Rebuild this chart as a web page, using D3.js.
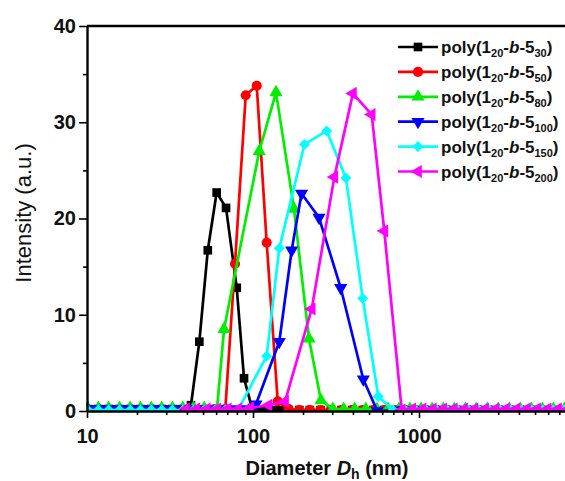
<!DOCTYPE html>
<html>
<head>
<meta charset="utf-8">
<script src="https://cdn.jsdelivr.net/npm/d3@7"></script>
<style>
  body { margin: 0; background: #fff; }
  text { font-family: "Liberation Sans", Arial, sans-serif; }
</style>
</head>
<body>
<div id="chart"></div>
<script>
// block length of the second segment, one per sample
const blocks = ["30", "50", "80", "100", "150", "200"];
const colors = ["#000000", "#ff0000", "#00ee00", "#0000ff", "#00ffff", "#ff00ff"];
const symbols = ["square", "circle", "up", "down", "diamond", "left"];

// diameter (nm) and intensity, one pair of arrays per sample
const dia30 = [10.1, 11.7, 13.5, 15.7, 18.2, 21.0, 24.4, 28.2, 32.7, 37.8, 42.3, 47.5, 53.4, 60.4, 68.8, 79.8, 88.3, 98.6, 114, 129, 145, 164, 190, 220, 255, 295, 342, 396, 459, 531, 615, 712, 825, 955, 1106, 1281, 1484, 1718, 1990, 2305, 2669, 3091, 3580, 4145, 4801, 5560, 6439, 7456];
const int30 = [0.2, 0.2, 0.2, 0.2, 0.2, 0.2, 0.2, 0.2, 0.2, 0.2, 0.6, 7.2, 16.7, 22.7, 21.1, 12.8, 3.4, 0.3, 0.1, 0.1, 0.1, 0.1, 0.1, 0.1, 0.1, 0.1, 0.1, 0.1, 0.1, 0.1, 0.1, 0.1, 0.1, 0.1, 0.1, 0.1, 0.1, 0.1, 0.1, 0.1, 0.1, 0.1, 0.1, 0.1, 0.1, 0.1, 0.1, 0.1];

const dia50 = [10.1, 11.7, 13.5, 15.7, 18.2, 21.0, 24.4, 28.2, 32.7, 37.8, 43.8, 50.8, 58.8, 68.1, 77.9, 90.4, 105.3, 120.9, 140.9, 164, 190, 220, 255, 295, 342, 396, 459, 531, 615, 712, 825, 955, 1106, 1281, 1484, 1718, 1990, 2305, 2669, 3091, 3580, 4145, 4801, 5560, 6439, 7456];
const int50 = [0.2, 0.2, 0.2, 0.2, 0.2, 0.2, 0.2, 0.2, 0.2, 0.2, 0.2, 0.2, 0.2, 0.2, 15.3, 32.8, 33.8, 17.5, 1.0, 0.2, 0.1, 0.1, 0.1, 0.1, 0.1, 0.1, 0.1, 0.1, 0.1, 0.1, 0.1, 0.1, 0.1, 0.1, 0.1, 0.1, 0.1, 0.1, 0.1, 0.1, 0.1, 0.1, 0.1, 0.1, 0.1, 0.1];

const dia80 = [10.1, 11.7, 13.5, 15.7, 18.2, 21.0, 24.4, 28.2, 32.7, 37.8, 43.8, 50.8, 60.7, 66.9, 109.1, 137.6, 176.6, 217.4, 256.8, 303, 352, 410, 478, 557, 650, 757, 882, 1030, 1200, 1400, 1630, 1900, 2210, 2580, 3000, 3500, 4080, 4750, 5540, 6450, 7520];
const int80 = [0.3, 0.3, 0.3, 0.3, 0.3, 0.3, 0.3, 0.3, 0.3, 0.3, 0.3, 0.3, 0.2, 8.5, 27.0, 33.1, 21.0, 7.5, 1.1, 0.2, 0.2, 0.2, 0.2, 0.2, 0.2, 0.2, 0.2, 0.2, 0.2, 0.2, 0.2, 0.2, 0.2, 0.2, 0.2, 0.2, 0.2, 0.2, 0.2, 0.2, 0.2];

const dia100 = [10.1, 11.7, 13.5, 15.7, 18.2, 21.0, 24.4, 28.2, 32.7, 37.8, 43.8, 50.8, 58.8, 68.1, 78.8, 91.3, 104.2, 144, 171, 196, 249.8, 337.6, 461.8, 560.8, 712, 825, 955, 1106, 1281, 1484, 1718, 1990, 2305, 2669, 3091, 3580, 4145, 4801, 5560, 6439, 7456];
const int100 = [0.2, 0.2, 0.2, 0.2, 0.2, 0.2, 0.2, 0.2, 0.2, 0.2, 0.2, 0.2, 0.2, 0.2, 0.2, 0.2, 0.7, 7.2, 16.7, 22.6, 20.1, 12.8, 3.3, 0.0, 0.1, 0.1, 0.1, 0.1, 0.1, 0.1, 0.1, 0.1, 0.1, 0.1, 0.1, 0.1, 0.1, 0.1, 0.1, 0.1, 0.1];

const dia150 = [10.1, 11.7, 13.5, 15.7, 18.2, 21.0, 24.4, 28.2, 32.7, 37.8, 43.8, 50.8, 58.8, 68.1, 81.2, 120.9, 144, 204.2, 278, 363, 458, 568.8, 697, 825, 955, 1106, 1281, 1484, 1718, 1990, 2305, 2669, 3091, 3580, 4145, 4801, 5560, 6439, 7456];
const int150 = [0.1, 0.1, 0.1, 0.1, 0.1, 0.1, 0.1, 0.1, 0.1, 0.1, 0.1, 0.1, 0.1, 0.1, 0.1, 5.7, 16.9, 27.7, 29.1, 24.2, 11.7, 1.5, 0.1, 0.1, 0.1, 0.1, 0.1, 0.1, 0.1, 0.1, 0.1, 0.1, 0.1, 0.1, 0.1, 0.1, 0.1, 0.1, 0.1];

const dia200 = [39.5, 45.6, 52.7, 60.9, 70.4, 81.3, 96, 124, 156, 225.8, 309, 400, 519, 618, 787, 910, 1050, 1210, 1400, 1620, 1870, 2160, 2500, 2890, 3340, 3860, 4460, 5150, 5950, 6880, 7950];
const int200 = [0.2, 0.2, 0.2, 0.2, 0.2, 0.2, 0.3, 0.6, 1.0, 10.6, 24.3, 33.0, 30.8, 18.7, 0.1, 0.2, 0.2, 0.2, 0.2, 0.2, 0.2, 0.2, 0.2, 0.2, 0.2, 0.2, 0.2, 0.2, 0.2, 0.2, 0.2];

const diameters = [dia30, dia50, dia80, dia100, dia150, dia200];
const intensities = [int30, int50, int80, int100, int150, int200];

const yTicks = [0, 10, 20, 30, 40];
const xTicks = [10, 100, 1000];

const W = 565, H = 481;
const plotLeft = 87, plotTop = 26, plotBottom = 411;

const svg = d3.select("#chart").append("svg")
    .attr("width", W)
    .attr("height", H);

const x = d3.scaleLog().domain([10, 10000]).range([plotLeft, plotLeft + 3 * 166]);
const y = d3.scaleLinear().domain([0, 40]).range([plotBottom, plotTop]);

svg.append("clipPath").attr("id", "plotclip")
  .append("rect")
    .attr("x", plotLeft - 1).attr("y", plotTop)
    .attr("width", W - plotLeft + 20).attr("height", plotBottom - plotTop);

// marker shapes
function markerPath(kind, size) {
    if (kind === "square") return d3.symbol(d3.symbolSquare, size * 0.75)();
    if (kind === "circle") return d3.symbol(d3.symbolCircle, size * 0.8)();
    if (kind === "diamond") return d3.symbol(d3.symbolSquare, size * 0.6)();
    return d3.symbol(d3.symbolTriangle, size * 0.75)();
}
function markerRotate(kind) {
    if (kind === "down") return 180;
    if (kind === "left") return -90;
    if (kind === "diamond") return 45;
    return 0;
}

const plot = svg.append("g").attr("clip-path", "url(#plotclip)");
const line = d3.line().x(d => x(d[0])).y(d => y(d[1]));

blocks.forEach((b, i) => {
    const pts = diameters[i].map((d, j) => [d, intensities[i][j]]);
    const g = plot.append("g");
    g.append("path")
        .datum(pts)
        .attr("fill", "none")
        .attr("stroke", colors[i])
        .attr("stroke-width", 2.7)
        .attr("stroke-linejoin", "round")
        .attr("d", line);
    g.selectAll("path.pt")
        .data(pts)
        .enter()
        .append("path")
        .attr("class", "pt")
        .attr("d", markerPath(symbols[i], 100))
        .attr("fill", colors[i])
        .attr("transform", d => "translate(" + x(d[0]) + "," + y(d[1]) + ") rotate(" + markerRotate(symbols[i]) + ")");
});

// axes
svg.append("g")
    .attr("transform", "translate(" + plotLeft + ",0)")
    .call(d3.axisLeft(y).tickValues(yTicks).tickSize(8).tickSizeOuter(0).tickPadding(3));
const yMinor = svg.append("g")
    .attr("transform", "translate(" + plotLeft + ",0)")
    .call(d3.axisLeft(y).tickValues([5, 15, 25, 35]).tickSize(4).tickFormat(""));
yMinor.select(".domain").remove();

const minor = x.ticks().filter(t => xTicks.indexOf(t) < 0 && t < 10000);
svg.append("g")
    .attr("transform", "translate(0," + plotBottom + ")")
    .call(d3.axisBottom(x).tickValues(xTicks).tickFormat(d3.format("d")).tickSize(7).tickSizeOuter(0).tickPadding(11));
const xMinor = svg.append("g")
    .attr("transform", "translate(0," + plotBottom + ")")
    .call(d3.axisBottom(x).tickValues(minor).tickSize(4).tickFormat(""));
xMinor.select(".domain").remove();

svg.selectAll(".domain").attr("stroke-width", 2.4).attr("stroke", "#000");
svg.selectAll(".tick line").attr("stroke-width", 1.6).attr("stroke", "#000");
svg.selectAll(".tick text")
    .attr("font-size", 20)
    .attr("font-weight", "bold")
    .attr("fill", "#111")
    .style("font-family", "'Liberation Sans', Arial, sans-serif");

// top frame line
svg.append("line")
    .attr("x1", plotLeft).attr("x2", W + 10)
    .attr("y1", y(40)).attr("y2", y(40))
    .attr("stroke", "#000").attr("stroke-width", 2.4);

// axis titles
svg.append("text")
    .attr("transform", "translate(31,213) rotate(-90)")
    .attr("text-anchor", "middle")
    .attr("font-size", 22)
    .attr("fill", "#111")
    .text("Intensity (a.u.)");

const xt = svg.append("text")
    .attr("x", 327).attr("y", 475)
    .attr("text-anchor", "middle")
    .attr("font-size", 20)
    .attr("font-weight", "bold")
    .attr("fill", "#111");
xt.append("tspan").text("Diameter ");
xt.append("tspan").attr("font-style", "italic").text("D");
xt.append("tspan").attr("font-size", 14).attr("dy", 4).text("h");
xt.append("tspan").attr("dy", -4).text(" (nm)");

// legend
const legend = svg.append("g");
blocks.forEach((b, i) => {
    const ly = 47 + i * 24.9;
    legend.append("line")
        .attr("x1", 398).attr("x2", 438)
        .attr("y1", ly).attr("y2", ly)
        .attr("stroke", colors[i]).attr("stroke-width", 2.7);
    legend.append("path")
        .attr("d", markerPath(symbols[i], 100))
        .attr("fill", colors[i])
        .attr("transform", "translate(418," + ly + ") rotate(" + markerRotate(symbols[i]) + ")");
    const t = legend.append("text")
        .attr("x", 441).attr("y", ly + 6)
        .attr("font-size", 17)
        .attr("font-weight", "bold")
        .attr("fill", "#111");
    t.append("tspan").text("poly(1");
    t.append("tspan").attr("font-size", 11).attr("dy", 4).text("20");
    t.append("tspan").attr("dy", -4).text("-");
    t.append("tspan").attr("font-style", "italic").text("b");
    t.append("tspan").text("-5");
    t.append("tspan").attr("font-size", 11).attr("dy", 4).text(b);
    t.append("tspan").attr("dy", -4).text(")");
});
</script>
</body>
</html>
